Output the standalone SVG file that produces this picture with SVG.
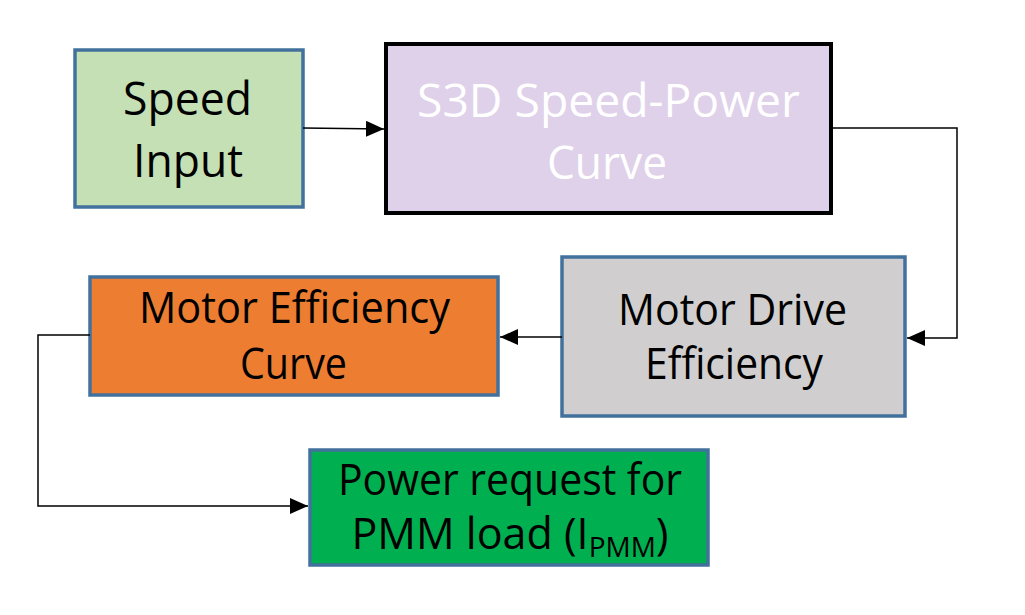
<svg xmlns="http://www.w3.org/2000/svg" width="1025" height="615" viewBox="0 0 1025 615">
<defs>
<style>
.box{stroke:#41719C;stroke-width:3.5}
.t{font-family:"Open Sans","Noto Sans",sans-serif;font-size:43px;fill:#000}
.big{font-size:46px}
.w{fill:#fff}
.c{fill:none;stroke:#000;stroke-width:1.5}
</style>
<marker id="a" viewBox="0 0 18 16" refX="18" refY="8" markerWidth="18" markerHeight="16" markerUnits="userSpaceOnUse" orient="auto">
<path d="M0,0 L18,8 L0,16 z" fill="#000"/>
</marker>
</defs>
<rect width="1025" height="615" fill="#fff"/>
<g id="speed-input">
<rect class="box" x="75" y="50" width="228" height="157" fill="#C5E0B4"/>
<text class="t big" x="123" y="115" textLength="129" lengthAdjust="spacingAndGlyphs">Speed</text>
<text class="t big" x="133" y="177" textLength="110" lengthAdjust="spacingAndGlyphs">Input</text>
</g>
<g id="s3d">
<rect x="386" y="44" width="445" height="169" fill="#DFD1E9" stroke="#000" stroke-width="4"/>
<text class="t big w" x="417" y="117" textLength="383" lengthAdjust="spacingAndGlyphs">S3D Speed-Power</text>
<text class="t big w" x="547" y="179" textLength="120" lengthAdjust="spacingAndGlyphs">Curve</text>
</g>
<g id="motor-drive">
<rect class="box" x="562" y="257" width="343" height="159" fill="#D0CECE"/>
<text class="t" x="618" y="325" textLength="229" lengthAdjust="spacingAndGlyphs">Motor Drive</text>
<text class="t" x="645" y="379" textLength="178" lengthAdjust="spacingAndGlyphs">Efficiency</text>
</g>
<g id="motor-eff">
<rect class="box" x="90" y="277" width="408" height="118" fill="#ED7D31"/>
<text class="t" x="139" y="323" textLength="311" lengthAdjust="spacingAndGlyphs">Motor Efficiency</text>
<text class="t" x="240" y="379" textLength="107" lengthAdjust="spacingAndGlyphs">Curve</text>
</g>
<g id="power">
<rect class="box" x="310" y="450" width="398" height="115" fill="#00B050"/>
<text class="t" x="338" y="495" textLength="344" lengthAdjust="spacingAndGlyphs">Power request for</text>
<text class="t" x="510" y="549" font-size="44" text-anchor="middle">PMM load (I<tspan font-size="28" dy="8">PMM</tspan><tspan dy="-8">)</tspan></text>
</g>
<g id="connectors">
<path class="c" d="M303,128 L384,129" marker-end="url(#a)"/>
<path class="c" d="M831,128 H957 V338 H907" marker-end="url(#a)"/>
<path class="c" d="M562,337 H500" marker-end="url(#a)"/>
<path class="c" d="M90,335 H38 V506 H308" marker-end="url(#a)"/>
</g>
</svg>
